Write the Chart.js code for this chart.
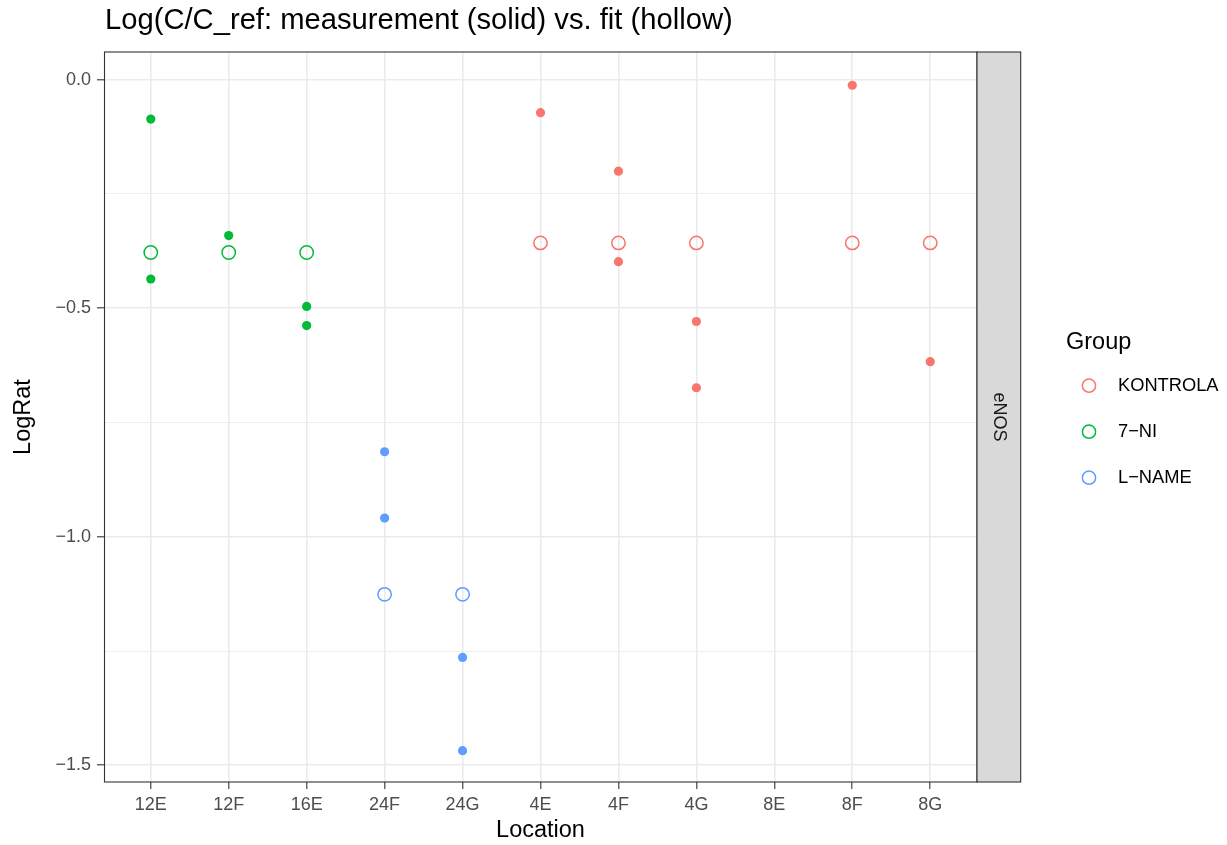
<!DOCTYPE html>
<html>
<head>
<meta charset="utf-8">
<script src="https://cdn.jsdelivr.net/npm/chart.js@4"></script>
<style>
  body { margin: 0; background: #ffffff; }
  #wrap { width: 1227px; height: 845px; }
</style>
</head>
<body>
<div id="wrap"><canvas id="grafico" width="1227" height="845"></canvas></div>
<script>
// 📋 Dados do gráfico
const categorias = ['12E', '12F', '16E', '24F', '24G', '4E', '4F', '4G', '8E', '8F', '8G'];
const grupos = ['KONTROLA', '7\u2212NI', 'L\u2212NAME'];
const cores = ['#F8766D', '#00BA38', '#619CFF'];

// medições (pontos cheios)
const kontrolaLoc = ['4E', '4F', '4F', '4G', '4G', '8F', '8G'];
const kontrolaMed = [-0.072, -0.200, -0.398, -0.529, -0.674, -0.012, -0.617];
const niLoc = ['12E', '12E', '12F', '16E', '16E'];
const niMed = [-0.086, -0.436, -0.341, -0.496, -0.538];
const lnameLoc = ['24F', '24F', '24G', '24G'];
const lnameMed = [-0.814, -0.959, -1.264, -1.468];

// ajuste (pontos vazios)
const kontrolaAjLoc = ['4E', '4F', '4G', '8F', '8G'];
const kontrolaAj = [-0.357, -0.357, -0.357, -0.357, -0.357];
const niAjLoc = ['12E', '12F', '16E'];
const niAj = [-0.378, -0.378, -0.378];
const lnameAjLoc = ['24F', '24G'];
const lnameAj = [-1.126, -1.126];

// ticks do eixo Y
const ticksY = [-1.5, -1.25, -1.0, -0.75, -0.5, -0.25, 0.0];
const ticksYPrincipais = [-1.5, -1.0, -0.5, 0.0];

const fonte = '"Liberation Sans", Arial, sans-serif';

// transforma locais + valores em pontos {x, y}
function pontos(locais, valores) {
    return locais.map((l, i) => ({ x: categorias.indexOf(l), y: valores[i] }));
}

function ehPrincipal(v) {
    return ticksYPrincipais.some(t => Math.abs(t - v) < 1e-9);
}

// 🎨 Plugin para moldura, faixa "eNOS", títulos e legenda
const molduraPlugin = {
    id: 'moldura',
    afterDraw(chart) {
        const ctx = chart.ctx;
        const a = chart.chartArea;
        ctx.save();

        // borda do painel
        ctx.strokeStyle = '#333333';
        ctx.lineWidth = 1.1;
        ctx.strokeRect(a.left + 0.5, a.top, a.right - a.left - 0.5, a.bottom - a.top);

        // faixa lateral
        const sx = a.right, sw = 43.7;
        ctx.fillStyle = '#D9D9D9';
        ctx.fillRect(sx, a.top, sw, a.bottom - a.top);
        ctx.strokeRect(sx, a.top, sw, a.bottom - a.top);
        ctx.save();
        ctx.translate(sx + sw / 2, (a.top + a.bottom) / 2);
        ctx.rotate(Math.PI / 2);
        ctx.fillStyle = '#1A1A1A';
        ctx.font = '18px ' + fonte;
        ctx.textAlign = 'center';
        ctx.textBaseline = 'middle';
        ctx.fillText('eNOS', 0, 0);
        ctx.restore();

        // título
        ctx.fillStyle = '#000000';
        ctx.font = '29.2px ' + fonte;
        ctx.textAlign = 'left';
        ctx.textBaseline = 'alphabetic';
        ctx.fillText('Log(C/C_ref: measurement (solid) vs. fit (hollow)', 105, 29);

        // títulos dos eixos
        ctx.font = '23.5px ' + fonte;
        ctx.textAlign = 'center';
        ctx.textBaseline = 'middle';
        ctx.fillText('Location', (a.left + a.right) / 2, 831);
        ctx.save();
        ctx.translate(24, (a.top + a.bottom) / 2);
        ctx.rotate(-Math.PI / 2);
        ctx.fillText('LogRat', 0, 0);
        ctx.restore();

        // legenda
        ctx.textAlign = 'left';
        ctx.font = '23.5px ' + fonte;
        ctx.fillText('Group', 1066, 343);
        ctx.font = '18.3px ' + fonte;
        grupos.forEach((g, i) => {
            const y = 385.7 + i * 46;
            ctx.beginPath();
            ctx.arc(1089, y, 6.6, 0, Math.PI * 2);
            ctx.strokeStyle = cores[i];
            ctx.lineWidth = 1.5;
            ctx.stroke();
            ctx.fillStyle = '#000000';
            ctx.fillText(g, 1118, y);
        });

        ctx.restore();
    }
};

// 📊 Criação do gráfico
document.addEventListener('DOMContentLoaded', function () {
    const ctx = document.getElementById('grafico').getContext('2d');

    const cheio = (dados, cor) => ({
        data: dados,
        backgroundColor: cor,
        borderWidth: 0,
        pointRadius: 4.6,
        pointHoverRadius: 4.6
    });
    const vazio = (dados, cor) => ({
        data: dados,
        backgroundColor: 'rgba(0,0,0,0)',
        borderColor: cor,
        borderWidth: 1.5,
        pointRadius: 6.7,
        pointHoverRadius: 6.7
    });

    new Chart(ctx, {
        type: 'scatter',
        data: {
            datasets: [
                cheio(pontos(kontrolaLoc, kontrolaMed), cores[0]),
                cheio(pontos(niLoc, niMed), cores[1]),
                cheio(pontos(lnameLoc, lnameMed), cores[2]),
                vazio(pontos(kontrolaAjLoc, kontrolaAj), cores[0]),
                vazio(pontos(niAjLoc, niAj), cores[1]),
                vazio(pontos(lnameAjLoc, lnameAj), cores[2])
            ]
        },
        options: {
            responsive: false,
            animation: false,
            devicePixelRatio: 1,
            layout: { padding: { top: 52, right: 250, left: 0, bottom: 0 } },
            plugins: { legend: { display: false }, tooltip: { enabled: false } },
            scales: {
                x: {
                    type: 'linear',
                    min: -0.6,
                    max: categorias.length - 1 + 0.6,
                    afterBuildTicks: s => { s.ticks = categorias.map((c, i) => ({ value: i })); },
                    afterFit: s => { s.height = 63; },
                    border: { display: false },
                    grid: {
                        color: '#EBEBEB',
                        lineWidth: 1.6,
                        tickLength: 7,
                        tickColor: '#333333',
                        tickWidth: 1.1
                    },
                    ticks: {
                        autoSkip: false,
                        maxRotation: 0,
                        padding: 5,
                        color: '#4D4D4D',
                        font: { family: fonte, size: 18 },
                        callback: v => categorias[v]
                    }
                },
                y: {
                    min: -1.5366,
                    max: 0.0607,
                    afterBuildTicks: s => { s.ticks = ticksY.map(v => ({ value: v })); },
                    afterFit: s => { s.width = 104; },
                    border: { display: false },
                    grid: {
                        color: '#EBEBEB',
                        lineWidth: c => ehPrincipal(c.tick.value) ? 1.6 : 0.8,
                        tickLength: 7,
                        tickColor: c => ehPrincipal(c.tick.value) ? '#333333' : 'rgba(0,0,0,0)',
                        tickWidth: 1.1
                    },
                    ticks: {
                        autoSkip: false,
                        padding: 6,
                        color: '#4D4D4D',
                        font: { family: fonte, size: 18 },
                        callback: v => ehPrincipal(v) ? v.toFixed(1).replace('-', '\u2212') : ''
                    }
                }
            }
        },
        plugins: [molduraPlugin]
    });
});
</script>
</body>
</html>
